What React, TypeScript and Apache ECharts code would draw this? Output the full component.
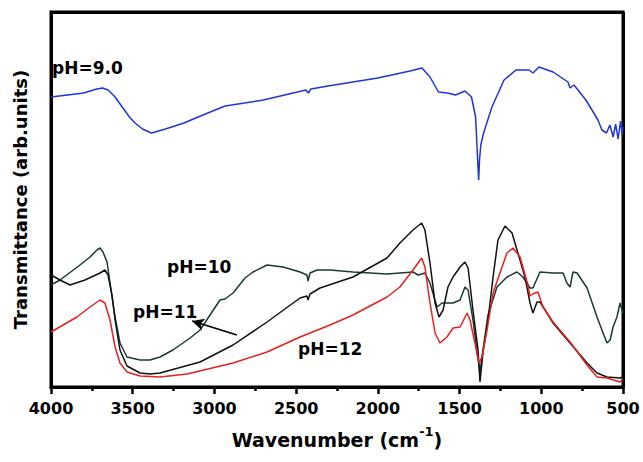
import React, { useEffect, useRef } from "react";
import * as echarts from "echarts";

// Wavenumber (cm-1), Transmittance (arb. units)
const ph9: [number, number][] = [
  [4000, 290], [3800, 294], [3720, 298], [3685, 299], [3650, 297], [3608, 290], [3560, 279],
  [3520, 270], [3486, 264], [3440, 258], [3400, 255], [3384, 254], [3300, 258], [3186, 264],
  [3100, 270], [2935, 281], [2700, 287], [2440, 297], [2425, 294], [2410, 298], [2305, 301],
  [2000, 309], [1803, 316], [1730, 319], [1681, 310], [1629, 295], [1574, 294], [1525, 292],
  [1467, 296], [1427, 290], [1402, 270], [1395, 247], [1388, 222], [1383, 207], [1378, 227],
  [1370, 242], [1353, 254], [1302, 280], [1228, 307], [1155, 317], [1075, 317], [1051, 314],
  [1014, 320], [928, 315], [837, 305], [824, 299], [800, 302], [727, 287], [653, 267],
  [629, 257], [601, 254], [580, 262], [560, 250], [545, 263], [530, 248], [515, 266],
  [505, 252], [500, 260],
];

const ph10: [number, number][] = [
  [4000, 102], [3945, 107], [3904, 112], [3823, 122], [3761, 130], [3719, 137], [3700, 139],
  [3682, 135], [3657, 125], [3639, 104], [3608, 70], [3578, 44], [3535, 30], [3455, 27],
  [3394, 27], [3333, 30], [3254, 37], [3149, 49], [3088, 57], [3027, 72], [2966, 87],
  [2935, 88], [2886, 94], [2813, 109], [2764, 115], [2678, 122], [2580, 120], [2476, 115],
  [2434, 112], [2427, 106], [2415, 114], [2372, 117], [2293, 117], [2152, 115], [1944, 113],
  [1785, 115], [1754, 112], [1712, 114], [1681, 104], [1638, 80], [1607, 84], [1540, 84],
  [1497, 87], [1467, 100], [1448, 97], [1418, 67], [1387, 27], [1375, 15], [1357, 37],
  [1326, 72], [1271, 100], [1210, 110], [1149, 115], [1112, 110], [1069, 99], [1051, 99],
  [1008, 115], [928, 114], [867, 114], [843, 104], [824, 100], [806, 115], [781, 114],
  [720, 99], [659, 70], [622, 54], [598, 44], [579, 47], [561, 60], [537, 70], [518, 84],
  [500, 74],
];

const ph11: [number, number][] = [
  [4000, 112], [3945, 107], [3884, 102], [3792, 107], [3700, 114], [3670, 117], [3651, 112],
  [3627, 92], [3608, 67], [3578, 37], [3535, 21], [3455, 14], [3394, 13], [3333, 14],
  [3088, 25], [2886, 42], [2678, 65], [2476, 89], [2434, 91], [2427, 87], [2415, 93],
  [2354, 99], [2152, 110], [1944, 129], [1865, 144], [1785, 157], [1732, 164], [1712, 157],
  [1681, 124], [1650, 84], [1626, 70], [1601, 77], [1571, 100], [1540, 110], [1497, 120],
  [1467, 125], [1448, 119], [1418, 77], [1387, 37], [1375, 5], [1357, 34], [1326, 67],
  [1295, 110], [1265, 147], [1222, 161], [1179, 154], [1143, 134], [1100, 110], [1069, 84],
  [1051, 74], [1026, 85], [1008, 85], [965, 74], [928, 64], [824, 44], [720, 24], [659, 14],
  [598, 10], [518, 9], [500, 10],
];

const ph12: [number, number][] = [
  [4000, 55], [3841, 70], [3761, 80], [3700, 87], [3670, 84], [3639, 67], [3608, 40],
  [3578, 24], [3535, 15], [3455, 11], [3333, 10], [3168, 13], [2886, 24], [2678, 35],
  [2476, 50], [2293, 62], [2152, 72], [1944, 90], [1865, 100], [1785, 117], [1732, 129],
  [1712, 120], [1681, 84], [1650, 54], [1620, 44], [1577, 50], [1540, 59], [1497, 60],
  [1454, 74], [1436, 67], [1406, 44], [1381, 24], [1363, 30], [1332, 57], [1295, 94],
  [1253, 114], [1210, 134], [1173, 139], [1130, 130], [1087, 105], [1069, 91], [1051, 93],
  [1020, 95], [990, 80], [928, 65], [824, 45], [720, 22], [659, 10], [598, 9], [518, 5],
  [500, 8],
];

const xTicks = { min: 500, max: 4000, interval: 500 };
const yRange = { min: 0, max: 375 };
const arrowFrom: [number, number] = [2862, 52];
const arrowTo: [number, number] = [3137, 66];

const FONT = "DejaVu Sans";
const GRID = { left: 51, right: 20, top: 12, bottom: 75 };
const W = 643;
const H = 462;
const CLEAR = "rgba(0,0,0,0)";

export default function App() {
  const ref = useRef<HTMLDivElement>(null);
  useEffect(() => {
    if (!ref.current) return;
    const chart = echarts.init(ref.current, undefined, { renderer: "svg" });
    const lineSeries = (name: string, data: [number, number][], color: string, extra: any = {}) => ({
      name,
      type: "line",
      data,
      showSymbol: false,
      symbol: "none",
      smooth: false,
      lineStyle: { color, width: 1.5 },
      silent: true,
      ...extra,
    });
    const nTicks = (xTicks.max - xTicks.min) / xTicks.interval + 1;
    // only the split line at 500 cm-1 (right edge) is drawn, as the frame's right side
    const xSplitColors = [ "#000", ...Array(nTicks - 1).fill(CLEAR) ];
    chart.setOption({
      animation: false,
      backgroundColor: "#fff",
      grid: { ...GRID, show: true, borderColor: "#000", borderWidth: 3 },
      xAxis: {
        type: "value",
        inverse: true,
        min: xTicks.min,
        max: xTicks.max,
        interval: xTicks.interval,
        axisLine: { show: true, onZero: false, lineStyle: { color: "#000", width: 3 } },
        axisTick: { show: true, length: 7, lineStyle: { color: "#000", width: 2.5 } },
        minorTick: { show: true, splitNumber: 2, length: 4, lineStyle: { color: "#000", width: 2.5 } },
        splitLine: { show: true, lineStyle: { color: xSplitColors, width: 3 } },
        axisLabel: {
          color: "#000",
          fontFamily: FONT,
          fontWeight: "bold",
          fontSize: 16,
          margin: 13,
          showMinLabel: true,
          showMaxLabel: true,
          formatter: (v: number) => String(v),
        },
        name: "{a|Wavenumber (cm}{b|-1}{a|)}",
        nameLocation: "middle",
        nameGap: 38,
        nameTextStyle: {
          rich: {
            a: { fontFamily: FONT, fontWeight: "bold", fontSize: 19, color: "#000", verticalAlign: "bottom", lineHeight: 24 },
            b: { fontFamily: FONT, fontWeight: "bold", fontSize: 13, color: "#000", verticalAlign: "top", lineHeight: 24, padding: [0, 0, 12, 0] },
          },
        },
      },
      yAxis: {
        type: "value",
        min: yRange.min,
        max: yRange.max,
        interval: yRange.max,
        axisLine: { show: true, onZero: false, lineStyle: { color: "#000", width: 3 } },
        axisTick: { show: false },
        axisLabel: { show: false },
        splitLine: { show: true, lineStyle: { color: [CLEAR, "#000"], width: 3 } },
        name: "Transmittance (arb.units)",
        nameLocation: "middle",
        nameGap: 22,
        nameTextStyle: { fontFamily: FONT, fontWeight: "bold", fontSize: 18, color: "#000" },
      },
      series: [
        lineSeries("pH=10", ph10, "#1b3a30"),
        lineSeries("pH=11", ph11, "#111111", {
          markLine: {
            silent: true,
            symbol: ["none", "arrow"],
            symbolSize: [9, 12],
            label: { show: false },
            lineStyle: { color: "#000", width: 1.8, type: "solid" },
            data: [[{ coord: arrowFrom }, { coord: arrowTo }]],
          },
        }),
        lineSeries("pH=12", ph12, "#e8201c"),
        lineSeries("pH=9.0", ph9, "#1f35d8"),
      ],
      graphic: {
        elements: [
          { type: "text", left: 52, top: 59, style: { text: "pH=9.0", font: `bold 17px "${FONT}"`, fill: "#000" } },
          { type: "text", left: 167, top: 258, style: { text: "pH=10", font: `bold 17px "${FONT}"`, fill: "#000" } },
          { type: "text", left: 133, top: 303, style: { text: "pH=11", font: `bold 17px "${FONT}"`, fill: "#000" } },
          { type: "text", left: 298, top: 340, style: { text: "pH=12", font: `bold 17px "${FONT}"`, fill: "#000" } },
        ],
      },
    });
    return () => chart.dispose();
  }, []);
  return (
    <div
      ref={ref}
      style={{ position: "fixed", left: 0, top: 0, width: W, height: H, background: "#fff" }}
    />
  );
}
